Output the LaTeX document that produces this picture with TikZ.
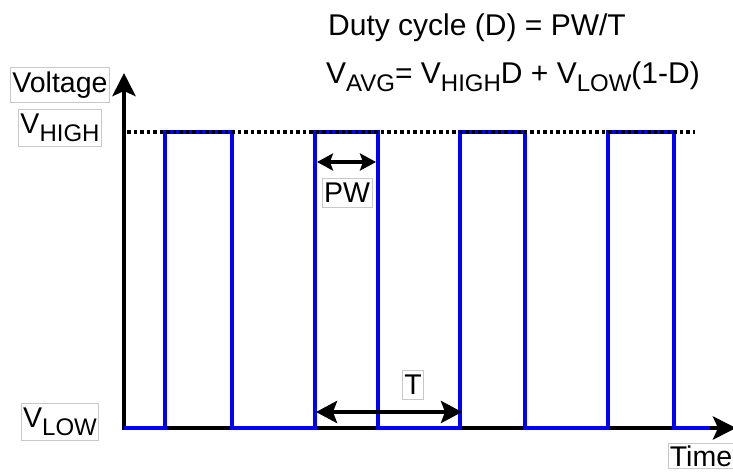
\documentclass[tikz,border=0pt]{standalone}
\usepackage{fontspec}
\setmainfont{Liberation Sans}
\usetikzlibrary{positioning,calc,arrows.meta}
\definecolor{pulseblue}{RGB}{0, 0, 255}
\definecolor{boxgray}{RGB}{200, 200, 200}
\newcommand{\lowsub}[1]{\raisebox{-0.27em}{\fontsize{24}{28}\selectfont #1}}
\tikzset{
    tag/.style={draw=boxgray,line width=.7pt,fill=white,inner xsep=2pt,inner ysep=4.5pt},
    axis/.style={line width=4.5pt,-{Stealth[length=23pt,width=23pt,inset=5pt]}},
    span/.style={line width=4pt,{Stealth[length=21pt,width=22pt,inset=4pt]}-{Stealth[length=21pt,width=22pt,inset=4pt]}},
    spansmall/.style={line width=4pt,{Stealth[length=16pt,width=17pt,inset=3pt]}-{Stealth[length=16pt,width=17pt,inset=3pt]}}
}

\begin{document}
\begin{tikzpicture}[x=1pt,y=-1pt,font=\fontsize{28.5}{34}\selectfont]
        \useasboundingbox (0,0) rectangle (733,473);

        % Axes
        \coordinate (O) at (124,428);
        \coordinate (ytop) at (124,73);
        \coordinate (xend) at (736,428);
        \draw[axis] ($(O)+(0,2)$) -- (ytop);
        \draw[axis] (O) -- (xend);

        % Pulse train
        \draw[pulseblue,line width=4pt] (O)
            \foreach \a/\b in {165/232,315/378,460/525,608/674} {
                -- (\a,428) -- (\a,132) -- (\b,132) -- (\b,428)
            } -- (710,428);

        % High level
        \draw[line width=4pt,dash pattern=on 3.5pt off 3pt] (127,132) -- (695,132);

        % Pulse width and period
        \coordinate (pwL) at (317,162);
        \coordinate (pwR) at (376,162);
        \coordinate (perL) at (316,412);
        \coordinate (perR) at (462,412);
        \draw[spansmall] (pwL) -- (pwR);
        \draw[span] (perL) -- (perR);

        % Labels
        \node[tag] (volt) at (60,85) {Voltage};
        \node[tag] (vhigh) at (60,128) {V\lowsub{HIGH}};
        \node[tag] (vlow) at (60,422) {V\lowsub{LOW}};
        \node[tag,inner ysep=2pt] (time) at (701,456) {Time};
        \node[tag] (pw) at (347,193) {PW};
        \node[tag] (per) at (413,385) {T};

        % Formulas
        \node[font=\fontsize{30}{36}\selectfont] (duty) at (477,28) {Duty cycle (D) = PW/T};
        \node[font=\fontsize{30}{36}\selectfont] (vavg) at (513,77) {V\lowsub{AVG}= V\lowsub{HIGH}D + V\lowsub{LOW}(1-D)};
    \end{tikzpicture}
\end{document}
